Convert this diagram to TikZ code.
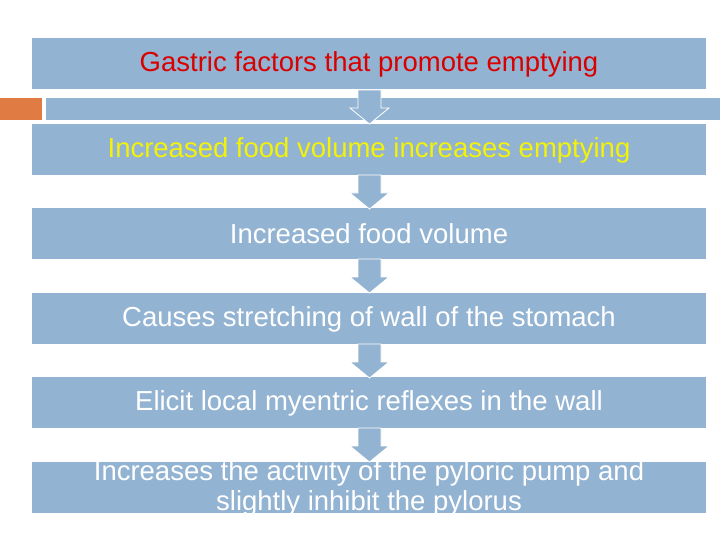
\documentclass[tikz,border=0pt]{standalone}
\usepackage{fontspec}
\setmainfont{Liberation Sans}
\definecolor{boxblue}{HTML}{93B3D2}
\definecolor{barorange}{HTML}{E07B43}
\definecolor{txtyellow}{HTML}{F2F20A}
\begin{document}
\begin{tikzpicture}[x=1pt,y=-1pt,
  bx/.style={fill=boxblue,draw=none},
  tx/.style={font=\fontsize{27.5}{31}\selectfont,inner sep=0pt},
  arr/.style={fill=boxblue,draw=none}]
\useasboundingbox (0,0) rectangle (720,540);
\fill[white] (0,0) rectangle (720,540);
% slide decoration
\fill[barorange] (0,98) rectangle (42,120);
\fill[boxblue] (46,98) rectangle (720,120);
% boxes
\foreach \n/\t in {1/38,2/124,3/208,4/293,5/377,6/462}{
  \fill[bx] (32,\t) rectangle (706,\t+51);
  \coordinate (b\n) at (369,\t+26);
}
% arrows
\foreach \t in {90,175,259,344,428}{
  \fill[arr,draw=white,line width=0.8pt] (358,\t) -- (381,\t) -- (381,\t+18) -- (389,\t+18) -- (369.5,\t+34) -- (350,\t+18) -- (358,\t+18) -- cycle;
}
\node[tx,text=red!85!black] (n1) at (b1) {Gastric factors that promote emptying};
\node[tx,text=txtyellow] (n2) at (b2) {Increased food volume increases emptying};
\node[tx,text=white] (n3) at (b3) {Increased food volume};
\node[tx,text=white] (n4) at (b4) {Causes stretching of wall of the stomach};
\node[tx,text=white] (n5) at (b5) {Elicit local myentric reflexes in the wall};
\begin{scope}
\clip (32,462) rectangle (706,513);
\node[tx,text=white,align=center,font=\fontsize{27.5}{30}\selectfont,anchor=north] (n6) at (369,460) {Increases the activity of the pyloric pump and\\slightly inhibit the pylorus};
\end{scope}
\end{tikzpicture}
\end{document}
